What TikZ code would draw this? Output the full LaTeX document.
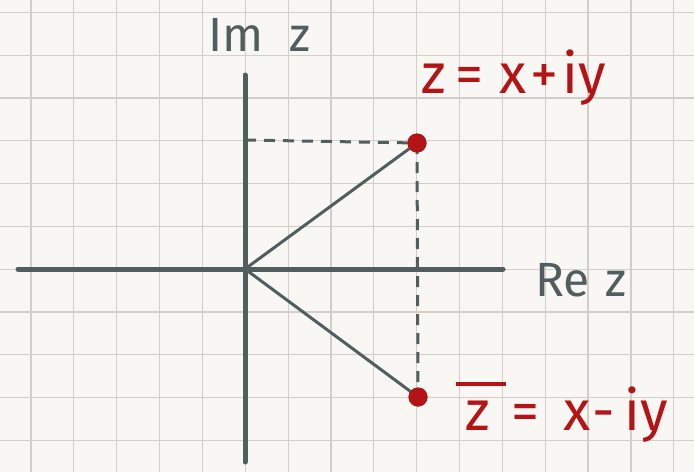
\documentclass[tikz,border=0pt]{standalone}
\usepackage{fontspec}
\newfontfamily\handfont{Fira Sans}
\usetikzlibrary{positioning}
\definecolor{mypaper}{RGB}{249,247,243}
\definecolor{mygrid}{RGB}{210,206,200}
\definecolor{myslate}{RGB}{80,94,94}
\definecolor{myred}{RGB}{180,20,22}
\newcommand{\zbar}{\makebox[0pt][l]{\hspace{-9pt}\rule[0.78em]{50pt}{4pt}}z}
\tikzset{
  axis/.style={line width=5pt,color=myslate,line cap=round},
  ray/.style={line width=3pt,color=myslate,line cap=round},
  proj/.style={line width=3pt,color=myslate,dash pattern=on 11pt off 8pt},
  gridline/.style={line width=1.2pt,color=mygrid},
  zdot/.style={circle,fill=myred,minimum size=19pt,inner sep=0pt},
  axlab/.style={text=myslate,font=\handfont\fontsize{48}{54}\selectfont,
    inner sep=1pt,anchor=base west},
  zlab/.style={text=myred,font=\handfont\fontsize{56}{62}\selectfont,
    inner sep=1pt,anchor=base west},
}
\begin{document}
\begin{tikzpicture}[x=1pt,y=-1pt]
  % paper and squares
  \fill[mypaper] (0,0) rectangle (694,472);
  \useasboundingbox (0,0) rectangle (694,472);
  \foreach \i in {0,...,15}
    \draw[gridline] (31+42.85*\i,0) -- (31+42.85*\i,472);
  \foreach \j in {0,...,10}
    \draw[gridline] (0,12.3+42.8*\j) -- (694,12.3+42.8*\j);
  % axes
  \coordinate (o) at (245,269);
  \coordinate (xl) at (18,269);
  \coordinate (xr) at (503,269);
  \coordinate (yt) at (245,75);
  \coordinate (yb) at (245,462);
  \coordinate (yz) at (245,140);
  % the two points
  \node[zdot] (z) at (417,143) {};
  \node[zdot] (zb) at (418,397) {};
  \draw[proj] (yz) -- (z.center);
  \draw[proj] (z.center) -- (zb.center);
  \draw[ray] (o) -- (z.center);
  \draw[ray] (o) -- (zb.center);
  \draw[axis] (xl) -- (xr);
  \draw[axis] (yt) -- (yb);
  \node[zdot] at (z) {};
  \node[zdot] at (zb) {};
  % labels
  \node[axlab] (imz) at (207,51) {Im\hspace{26pt}z};
  \node[axlab] (rez) at (534,296) {Re\hspace{16pt}z};
  \node[zlab] (zeq) at (420,93) {z\hspace{10pt}=\hspace{16pt}x\hspace{4pt}+\hspace{4pt}iy};
  \node[zlab] (zbeq) at (464,430) {\zbar\hspace{22pt}=\hspace{24pt}x\hspace{2pt}-\hspace{9pt}iy};
\end{tikzpicture}
\end{document}
